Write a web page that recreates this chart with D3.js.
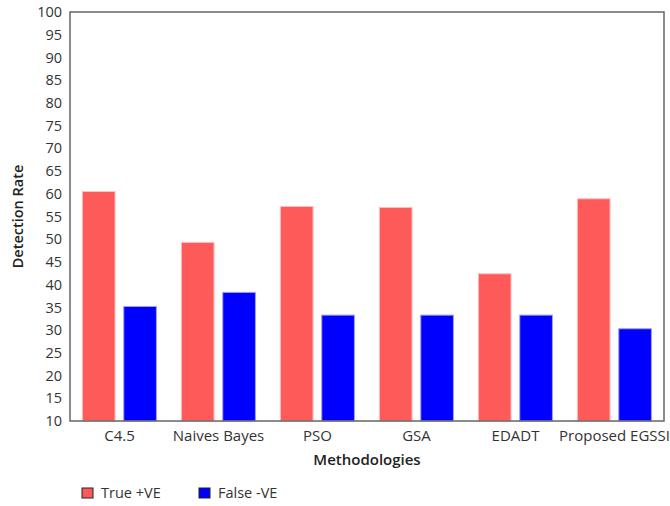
<!DOCTYPE html>
<html>
<head>
<meta charset="utf-8">
<script src="https://cdn.jsdelivr.net/npm/d3@7"></script>
<style>
  html, body { margin: 0; padding: 0; background: #fff; }
  svg { display: block; font-family: "Open Sans", "Noto Sans", sans-serif; }
</style>
</head>
<body>
<svg id="chart" width="670" height="506"></svg>
<script>
// Detection rate per methodology
const methods = ["C4.5", "Naives Bayes", "PSO", "GSA", "EDADT", "Proposed EGSSI"];
const truePositive = [60.5, 49.3, 57.2, 57.0, 42.4, 58.9];
const falseNegative = [35.2, 38.3, 33.3, 33.3, 33.3, 30.3];
const seriesNames = ["True +VE", "False -VE"];
const seriesColors = ["#ff5a5a", "#0000ff"];
const seriesStrokes = ["#ffc0c0", "#a0a0ff"];
const yTicks = d3.range(10, 101, 5);

const svg = d3.select("#chart");
const margin = { left: 70, top: 12, right: 6, bottom: 85 };
const width = 670 - margin.left - margin.right;
const height = 506 - margin.top - margin.bottom;
const labelSize = 14.5;
const categorySize = 15;

const g = svg.append("g").attr("transform", `translate(${margin.left},${margin.top})`);

// One band per methodology, the two series side by side inside it
const x0 = d3.scaleBand().domain(methods).range([0, width]).padding(0);
const bw = x0.bandwidth();
const x1 = d3.scaleBand().domain(seriesNames).range([bw * 0.125, bw * 0.873]).paddingInner(0.21).paddingOuter(0);
const y = d3.scaleLinear().domain([10, 100]).range([height, 0]);

const data = methods.map((m, i) => ({ method: m, values: [truePositive[i], falseNegative[i]] }));

// Bars
const groups = g.selectAll(".grp").data(data).join("g")
  .attr("transform", d => `translate(${x0(d.method)},0)`);
groups.selectAll("rect").data(d => d.values.map((v, k) => ({ v, k }))).join("rect")
  .attr("x", d => x1(seriesNames[d.k]))
  .attr("width", x1.bandwidth())
  .attr("y", d => y(d.v))
  .attr("height", d => height - y(d.v))
  .attr("fill", d => seriesColors[d.k])
  .attr("stroke", d => seriesStrokes[d.k])
  .attr("stroke-width", 1);

// Frame
g.append("rect").attr("x", 0).attr("y", 0).attr("width", width).attr("height", height)
  .attr("fill", "none").attr("stroke", "#666").attr("stroke-width", 1.5);

// Y axis
const yAxis = g.append("g").call(d3.axisLeft(y).tickValues(yTicks).tickSize(0).tickPadding(8));
yAxis.select(".domain").remove();
yAxis.selectAll("text").attr("font-size", labelSize).attr("fill", "#333").attr("font-family", "Open Sans, sans-serif");

// X axis
const xAxis = g.append("g").attr("transform", `translate(0,${height})`)
  .call(d3.axisBottom(x0).tickSize(0).tickPadding(9));
xAxis.select(".domain").remove();
xAxis.selectAll("text").attr("font-size", categorySize).attr("fill", "#333").attr("font-family", "Open Sans, sans-serif");

// Axis titles
svg.append("text").attr("x", margin.left + width / 2).attr("y", 465)
  .attr("text-anchor", "middle").attr("font-size", categorySize).attr("font-weight", 600).attr("fill", "#222")
  .text("Methodologies");
svg.append("text").attr("transform", `translate(23,${margin.top + height / 2}) rotate(-90)`)
  .attr("text-anchor", "middle").attr("font-size", labelSize).attr("font-weight", 600).attr("fill", "#222")
  .text("Detection Rate");

// Legend
const legend = svg.append("g").attr("transform", "translate(82,488)");
const legendX = [0, 117];
seriesNames.forEach((name, k) => {
  const lg = legend.append("g").attr("transform", `translate(${legendX[k]},0)`);
  lg.append("rect").attr("width", 11).attr("height", 10)
    .attr("fill", seriesColors[k]).attr("stroke", "#222").attr("stroke-width", 1);
  lg.append("text").attr("x", 19).attr("y", 10).attr("font-size", labelSize).attr("fill", "#333").text(name);
});
</script>
</body>
</html>
